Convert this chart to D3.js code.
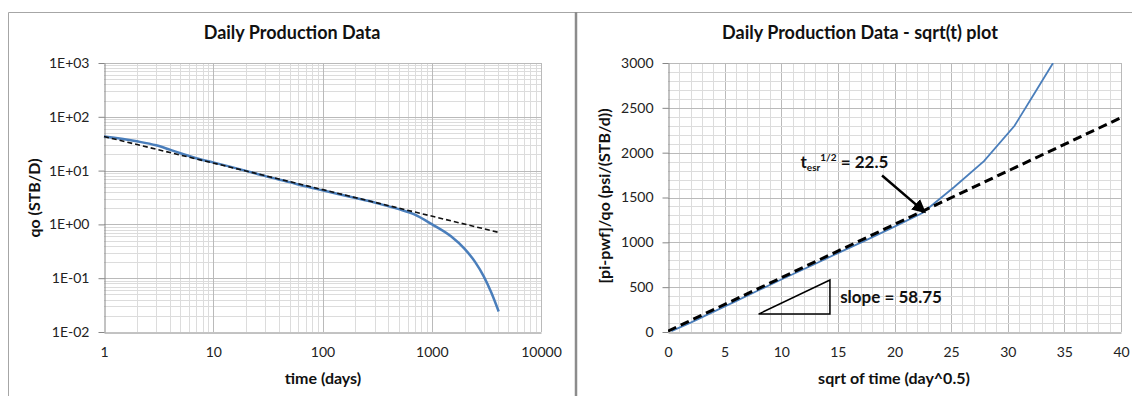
<!DOCTYPE html>
<html>
<head>
<meta charset="utf-8">
<script src="https://cdn.jsdelivr.net/npm/d3@7"></script>
<style>
	body { margin: 0; background: #fff; }
	svg { display: block; font-family: Lato, "Open Sans", sans-serif; }
	.grid-minor { stroke: #dcdcdc; stroke-width: 1; }
	.grid-major { stroke: #bababa; stroke-width: 1; }
	.axis path, .axis line { stroke: #868686; }
	.title { font-size: 18px; font-weight: bold; fill: #111; }
	.axis-title { font-size: 16px; font-weight: bold; fill: #111; }
</style>
</head>
<body>
<div id="chart"></div>
<script>
// Left chart: rate vs time (log-log)
var timeDays = [1, 2, 3, 4, 5, 7, 10, 20, 30, 50, 70, 100, 200, 300, 500, 700, 1000, 1500, 2000, 2500, 3000, 3500, 4100];
var rateQo   = [43, 35, 29.5, 24.5, 21, 17, 14.2, 9.9, 7.9, 6.1, 5.1, 4.3, 3.1, 2.55, 1.92, 1.52, 1.01, 0.6, 0.35, 0.199, 0.107, 0.0546, 0.024];
var rateFitTime = [1, 4100];
var rateFit     = [43, 0.71];

// Right chart: normalised pressure vs sqrt(t)
var sqrtTime = [0.3, 2, 4, 6, 8, 10, 12.5, 15, 17.5, 20, 22.5, 25.3, 27.9, 30.6, 32.5, 34.0];
var normDp   = [10, 105, 225, 345, 465, 585, 730, 880, 1025, 1175, 1330, 1620, 1905, 2300, 2690, 3000];
var dpFitX = [0, 40];
var dpFitY = [10, 2390];

// Slope triangle (data coordinates)
var triX = [8, 14.3, 14.3];
var triY = [200, 200, 580];

var leftYTicks = [0.01, 0.1, 1, 10, 100, 1000];
var leftXTicks = [1, 10, 100, 1000, 10000];
var rightXTicks = [0, 5, 10, 15, 20, 25, 30, 35, 40];
var rightYTicks = [0, 500, 1000, 1500, 2000, 2500, 3000];

var svg = d3.select("#chart").append("svg")
	.attr("width", 1132)
	.attr("height", 396);

// Panel frames
svg.append("path")
	.attr("d", "M8.5,396 V12.5 H1132")
	.attr("fill", "none")
	.attr("stroke", "#a6a6a6");
svg.append("line")
	.attr("x1", 576).attr("x2", 576)
	.attr("y1", 12).attr("y2", 396)
	.attr("stroke", "#8c8c8c")
	.attr("stroke-width", 2.5);

// axis label styling (d3 sets its own font on the axis group)
var styleAxis = function(g) {
	g.attr("font-family", "Lato, sans-serif").attr("font-size", 14);
	g.selectAll("text").style("font-size", "14px").style("fill", "#222");
};

// ---------- Left chart ----------
var xL = d3.scaleLog().domain([1, 10000]).range([104, 541]);
var yL = d3.scaleLog().domain([0.01, 1000]).range([332, 63]);

var logMinor = function(lo, hi) {
	var out = [];
	for (var d = lo; d < hi; d *= 10) {
		for (var k = 2; k <= 9; k++) out.push(d * k);
	}
	return out;
};

var left = svg.append("g");

left.append("g").selectAll("line")
	.data(logMinor(1, 10000))
	.enter().append("line")
	.attr("class", "grid-minor")
	.attr("x1", function(d) { return Math.round(xL(d)) + .5; })
	.attr("x2", function(d) { return Math.round(xL(d)) + .5; })
	.attr("y1", yL(1000)).attr("y2", yL(0.01));

left.append("g").selectAll("line")
	.data(logMinor(0.01, 1000))
	.enter().append("line")
	.attr("class", "grid-minor")
	.attr("y1", function(d) { return Math.round(yL(d)) + .5; })
	.attr("y2", function(d) { return Math.round(yL(d)) + .5; })
	.attr("x1", xL(1)).attr("x2", xL(10000));

left.append("g").selectAll("line")
	.data(leftXTicks.slice(1))
	.enter().append("line")
	.attr("class", "grid-major")
	.attr("x1", function(d) { return Math.round(xL(d)) + .5; })
	.attr("x2", function(d) { return Math.round(xL(d)) + .5; })
	.attr("y1", yL(1000)).attr("y2", yL(0.01));

left.append("g").selectAll("line")
	.data(leftYTicks.slice(1))
	.enter().append("line")
	.attr("class", "grid-major")
	.attr("y1", function(d) { return Math.round(yL(d)) + .5; })
	.attr("y2", function(d) { return Math.round(yL(d)) + .5; })
	.attr("x1", xL(1)).attr("x2", xL(10000));

var sciFormat = function(d) {
	var e = Math.round(Math.log10(d));
	return "1E" + (e < 0 ? "-" : "+") + String(Math.abs(e)).padStart(2, "0");
};

left.append("g")
	.attr("class", "axis")
	.attr("transform", "translate(" + (Math.round(xL(1)) + .5) + ",0)")
	.call(d3.axisLeft(yL).tickValues(leftYTicks).tickFormat(sciFormat).tickSize(6).tickSizeOuter(0).tickPadding(9))
	.call(styleAxis);

left.append("g")
	.attr("class", "axis")
	.attr("transform", "translate(0," + (Math.round(yL(0.01)) + .5) + ")")
	.call(d3.axisBottom(xL).tickValues(leftXTicks).tickFormat(d3.format("d")).tickSize(0).tickSizeOuter(0).tickPadding(15))
	.call(styleAxis);

var lineL = d3.line()
	.x(function(d) { return xL(d[0]); })
	.y(function(d) { return yL(d[1]); });

left.append("path")
	.datum(d3.zip(timeDays, rateQo))
	.attr("fill", "none")
	.attr("stroke", "#4a7ebb")
	.attr("stroke-width", 2.5)
	.attr("d", lineL.curve(d3.curveMonotoneX));

left.append("path")
	.datum(d3.zip(rateFitTime, rateFit))
	.attr("fill", "none")
	.attr("stroke", "#111")
	.attr("stroke-width", 1.6)
	.attr("stroke-dasharray", "5,3")
	.attr("d", d3.line().x(function(d) { return xL(d[0]); }).y(function(d) { return yL(d[1]); }));

left.append("text")
	.attr("class", "title")
	.attr("x", 292).attr("y", 39)
	.attr("text-anchor", "middle")
	.text("Daily Production Data");

left.append("text")
	.attr("class", "axis-title")
	.attr("x", 323).attr("y", 384)
	.attr("text-anchor", "middle")
	.text("time (days)");

left.append("text")
	.attr("class", "axis-title")
	.attr("transform", "translate(40,198) rotate(-90)")
	.attr("text-anchor", "middle")
	.text("qo (STB/D)");

// ---------- Right chart ----------
var xR = d3.scaleLinear().domain([0, 40]).range([668, 1121]);
var yR = d3.scaleLinear().domain([0, 3000]).range([332, 63]);

var right = svg.append("g");

right.append("g").selectAll("line")
	.data(d3.range(1, 41))
	.enter().append("line")
	.attr("class", function(d) { return d % 5 === 0 ? "grid-major" : "grid-minor"; })
	.attr("x1", function(d) { return Math.round(xR(d)) + .5; })
	.attr("x2", function(d) { return Math.round(xR(d)) + .5; })
	.attr("y1", yR(3000)).attr("y2", yR(0));

right.append("g").selectAll("line")
	.data(d3.range(100, 3001, 100))
	.enter().append("line")
	.attr("class", function(d) { return d % 500 === 0 ? "grid-major" : "grid-minor"; })
	.attr("y1", function(d) { return Math.round(yR(d)) + .5; })
	.attr("y2", function(d) { return Math.round(yR(d)) + .5; })
	.attr("x1", xR(0)).attr("x2", xR(40));

right.append("g")
	.attr("class", "axis")
	.attr("transform", "translate(" + (Math.round(xR(0)) + .5) + ",0)")
	.call(d3.axisLeft(yR).tickValues(rightYTicks).tickFormat(d3.format("d")).tickSize(6).tickSizeOuter(0).tickPadding(9))
	.call(styleAxis);

right.append("g")
	.attr("class", "axis")
	.attr("transform", "translate(0," + (Math.round(yR(0)) + .5) + ")")
	.call(d3.axisBottom(xR).tickValues(rightXTicks).tickFormat(d3.format("d")).tickSize(0).tickSizeOuter(0).tickPadding(15))
	.call(styleAxis);

svg.append("defs").append("clipPath")
	.attr("id", "clipR")
	.append("rect")
	.attr("x", xR(0)).attr("y", yR(3000))
	.attr("width", xR(40) - xR(0))
	.attr("height", yR(0) - yR(3000));

var lineR = d3.line()
	.x(function(d) { return xR(d[0]); })
	.y(function(d) { return yR(d[1]); });

var plotR = right.append("g").attr("clip-path", "url(#clipR)");

plotR.append("path")
	.datum(d3.zip(sqrtTime, normDp))
	.attr("fill", "none")
	.attr("stroke", "#4a7ebb")
	.attr("stroke-width", 1.8)
	.attr("d", lineR);

plotR.append("path")
	.datum(d3.zip(dpFitX, dpFitY))
	.attr("fill", "none")
	.attr("stroke", "#000")
	.attr("stroke-width", 3)
	.attr("stroke-dasharray", "9,5")
	.attr("d", lineR);

// slope triangle
right.append("path")
	.datum(d3.zip(triX, triY))
	.attr("fill", "none")
	.attr("stroke", "#000")
	.attr("stroke-width", 1.5)
	.attr("d", function(d) { return lineR(d) + "Z"; });

right.append("text")
	.attr("x", xR(15.2)).attr("y", yR(320))
	.attr("font-size", 17).attr("font-weight", "bold")
	.attr("fill", "#111")
	.text("slope = 58.75");

// t_esr annotation
var tLabel = right.append("text")
	.attr("x", xR(11.7)).attr("y", yR(1825))
	.attr("font-size", 17).attr("font-weight", "bold")
	.attr("fill", "#111");
tLabel.append("tspan").text("t");
tLabel.append("tspan").attr("font-size", 10).attr("dy", 3).text("esr");
tLabel.append("tspan").attr("font-size", 10).attr("dy", -10).text("1/2");
tLabel.append("tspan").attr("dy", 7).text(" = 22.5");

svg.append("defs").append("marker")
	.attr("id", "arrow")
	.attr("viewBox", "0 0 10 10")
	.attr("refX", 8).attr("refY", 5)
	.attr("markerWidth", 5.5).attr("markerHeight", 5.5)
	.attr("orient", "auto")
	.append("path")
	.attr("d", "M0,0 L10,5 L0,10 Z")
	.attr("fill", "#000");

right.append("line")
	.attr("x1", xR(18.9)).attr("y1", yR(1745))
	.attr("x2", xR(22.6)).attr("y2", yR(1345))
	.attr("stroke", "#000")
	.attr("stroke-width", 2.5)
	.attr("marker-end", "url(#arrow)");

right.append("text")
	.attr("class", "title")
	.attr("x", 860).attr("y", 39)
	.attr("text-anchor", "middle")
	.text("Daily Production Data - sqrt(t) plot");

right.append("text")
	.attr("class", "axis-title")
	.attr("x", 894).attr("y", 384)
	.attr("text-anchor", "middle")
	.text("sqrt of time (day^0.5)");

right.append("text")
	.attr("class", "axis-title")
	.attr("transform", "translate(610,196) rotate(-90)")
	.attr("text-anchor", "middle")
	.text("[pi-pwf]/qo (psi/(STB/d))");
</script>
</body>
</html>
